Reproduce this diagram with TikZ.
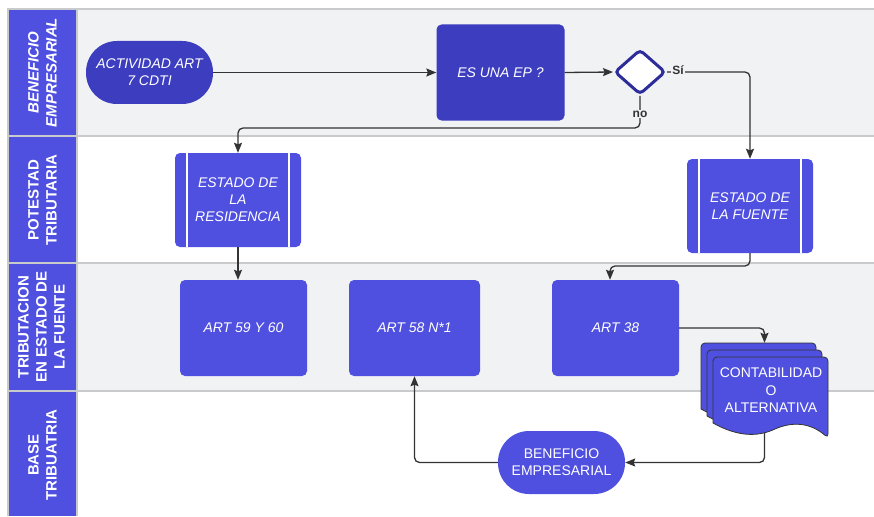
\documentclass[tikz,border=0pt]{standalone}
\usepackage{fontspec}
\setmainfont{Liberation Sans}
\usetikzlibrary{arrows.meta,shapes.geometric,calc}
\definecolor{lanegray}{HTML}{F1F2F4}
\definecolor{sepgray}{HTML}{C9CACC}
\definecolor{lblue}{HTML}{4F50DF}
\definecolor{dblue}{HTML}{3C3EBF}
\definecolor{diablue}{HTML}{2C2C9B}
\definecolor{lin}{HTML}{333333}
\newcommand\docpage[2]{%
  \begin{scope}[shift={(#1,#2)}]
    \path[draw=lin, fill=lblue, line width=0.8pt, rounded corners=4pt]
      (0,66) -- (0,0) -- (115,0) -- (115,81) {[sharp corners]
      .. controls (98,66) and (80,64) .. (62,72)
      .. controls (45,80) and (25,80) .. (0,66)} -- cycle;
  \end{scope}}
\begin{document}
\begin{tikzpicture}[x=1pt,y=-1pt,
  box/.style={rectangle, rounded corners=5pt, fill=lblue, draw=none, text=white,
    align=center, font=\fontsize{14}{17}\selectfont\itshape, inner sep=0pt},
  darkbox/.style={box, fill=dblue},
  stadium/.style={box, rounded corners=31pt},
  procbox/.style={box, path picture={
    \draw[white, line width=1.2pt]
      ([xshift=12pt]path picture bounding box.north west) -- ([xshift=12pt]path picture bounding box.south west)
      ([xshift=-12pt]path picture bounding box.north east) -- ([xshift=-12pt]path picture bounding box.south east);}},
  lanelabel/.style={rotate=90, text=white, align=center, font=\fontsize{15}{18}\selectfont\bfseries, inner sep=0pt},
  conn/.style={draw=lin, line width=1.3pt, rounded corners=5pt, -{Stealth[length=10pt,width=8pt,inset=1.5pt]}},
  edgelabel/.style={fill=lanegray, inner sep=1pt, text=lin, font=\fontsize{12}{12}\selectfont\bfseries}
]
\useasboundingbox (0,0) rectangle (874,516);
% lanes
\fill[lanegray] (77,9) rectangle (874,136);
\fill[white] (77,136) rectangle (874,263);
\fill[lanegray] (77,263) rectangle (874,391);
\fill[white] (77,391) rectangle (874,516);
\fill[lblue] (8,9) rectangle (77,516);
\draw[sepgray, line width=2pt] (874,9) -- (8,9) -- (8,516);
\draw[sepgray, line width=2pt] (77,9) -- (77,516);
\foreach \yy in {136,263,391} \draw[sepgray, line width=2pt] (8,\yy) -- (874,\yy);
% lane labels
\node[lanelabel, font=\fontsize{15}{18}\selectfont\bfseries\itshape] (l1) at (42.5,72.5) {BENEFICIO\\EMPRESARIAL};
\node[lanelabel] (l2) at (42.5,200) {POTESTAD\\TRIBUTARIA};
\node[lanelabel] (l3) at (41.5,327) {TRIBUTACION\\EN ESTADO DE\\LA FUENTE};
\node[lanelabel] (l4) at (42.5,455) {BASE\\TRIBUATRIA};
% nodes
\node[stadium, fill=dblue, minimum width=127pt, minimum height=63pt] (act) at (149.5,72.5) {ACTIVIDAD ART\\7 CDTI};
\node[darkbox, minimum width=128pt, minimum height=96pt] (ep) at (500.5,72.5) {ES UNA EP ?};
\node[diamond, draw=diablue, line width=3pt, fill=white, rounded corners=4pt,
      minimum width=51pt, minimum height=45pt, inner sep=0pt] (dia) at (640,72) {};
\node[procbox, minimum width=126pt, minimum height=94pt] (res) at (238,200) {ESTADO DE\\LA\\RESIDENCIA};
\node[procbox, minimum width=126pt, minimum height=94pt] (fue) at (750,206) {ESTADO DE\\LA FUENTE};
\node[box, minimum width=127pt, minimum height=96pt] (a5960) at (243.5,328) {ART 59 Y 60};
\node[box, minimum width=131pt, minimum height=96pt] (a58) at (414.5,328) {ART 58 N*1};
\node[box, minimum width=127pt, minimum height=96pt] (a38) at (615.5,328) {ART 38};
\node[stadium, minimum width=127pt, minimum height=63pt, font=\fontsize{14}{17}\selectfont] (ben) at (561.5,462.5) {BENEFICIO\\EMPRESARIAL};
\node[rectangle, minimum width=127pt, minimum height=95pt, inner sep=0pt] (conta) at (764.5,390.5) {};
% connector hidden behind the document stack
\path[conn] (conta.center) |- (ben.east);
% document stack
\docpage{701}{343}
\docpage{707}{350}
\docpage{713}{357}
\node[text=white, align=center, font=\fontsize{14}{17.5}\selectfont, inner sep=0pt] (contatext) at (771,390.5) {CONTABILIDAD\\O\\ALTERNATIVA};
% connectors
\coordinate (nobend) at (238,128);
\coordinate (fbend) at (610,266);
\path[conn] (act.east) -- (ep.west);
\path[conn] (ep.east) -- (dia.west);
\path[conn] (dia.east) -| (fue.north);
\path[conn] (dia.south) |- (nobend) -- (res.north);
\path[conn] (res.south) -- (res.south |- a5960.north);
\path[conn] (fue.south) |- (fbend) -- (fbend |- a38.north);
\path[conn] (a38.east) -| (conta.north);
\path[conn] (ben.west) -| (a58.south);
\node[edgelabel] (si) at (678,70) {Sí};
\node[edgelabel] (no) at (640,114) {no};
\end{tikzpicture}
\end{document}
